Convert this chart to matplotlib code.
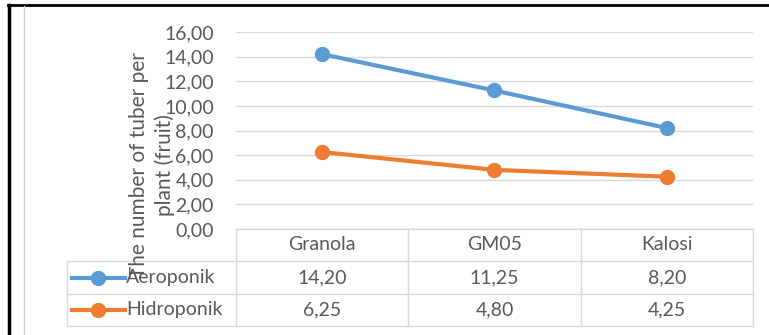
import matplotlib.pyplot as plt
from matplotlib.lines import Line2D

plt.rcParams['font.family'] = ['Lato', 'DejaVu Sans']

varieties = ["Granola", "GM05", "Kalosi"]
aeroponik = [14.20, 11.25, 8.20]
hidroponik = [6.25, 4.80, 4.25]
series_names = ["Aeroponik", "Hidroponik"]
y_ticks = [0, 2, 4, 6, 8, 10, 12, 14, 16]

W, H = 769, 335
blue = "#5B9BD5"
orange = "#ED7D31"
grid_c = "#D9D9D9"
text_c = "#595959"
fs = 14

def fmt(v):
    return f"{v:.2f}".replace(".", ",")

fig = plt.figure(figsize=(W / 100, H / 100), dpi=100)
fig.patch.set_facecolor("white")

# pixel-space layer for the frame and the data table
over = fig.add_axes([0, 0, 1, 1])
over.set_xlim(0, W)
over.set_ylim(H, 0)
over.axis("off")

# plot area in pixels
x0, x1 = 236, 753
y_top, y_bot = 32, 229
ax = fig.add_axes([x0 / W, (H - y_bot) / H, (x1 - x0) / W, (y_bot - y_top) / H])
ax.set_xlim(-0.5, len(varieties) - 0.5)
ax.set_ylim(0, 16)
ax.set_yticks(y_ticks)
ax.set_yticklabels([fmt(t) for t in y_ticks], color=text_c, fontsize=fs)
ax.set_xticks([])
ax.tick_params(axis="y", length=0, pad=16)
for s in ax.spines.values():
    s.set_visible(False)
ax.grid(axis="y", color=grid_c, linewidth=1)
ax.set_axisbelow(True)
ax.patch.set_alpha(0)

xs = range(len(varieties))
ax.plot(xs, aeroponik, color=blue, linewidth=3, marker="o", markersize=10, clip_on=False)
ax.plot(xs, hidroponik, color=orange, linewidth=3, marker="o", markersize=10, clip_on=False)

ax.set_ylabel("The number of tuber per\nplant (fruit)", fontsize=15, color=text_c,
              linespacing=1.3)
ax.yaxis.set_label_coords((175 - x0) / (x1 - x0), (y_bot - 165) / (y_bot - y_top))

# data table
col_edges = [236, 408, 581, 753]
row_edges = [229, 261, 294, 326]
tx0 = 67
lw = 1
over.plot([col_edges[0], col_edges[-1]], [row_edges[0]] * 2, color=grid_c, lw=lw)
for y in row_edges[1:]:
    over.plot([tx0, col_edges[-1]], [y, y], color=grid_c, lw=lw)
over.plot([tx0, tx0], [row_edges[1], row_edges[-1]], color=grid_c, lw=lw)
for x in col_edges:
    over.plot([x, x], [row_edges[0], row_edges[-1]], color=grid_c, lw=lw)

centers = [(col_edges[i] + col_edges[i + 1]) / 2 for i in range(len(varieties))]
for cx, name in zip(centers, varieties):
    over.text(cx, (row_edges[0] + row_edges[1]) / 2, name, ha="center", va="center",
              fontsize=fs, color=text_c)

rows = [aeroponik, hidroponik]
colors = [blue, orange]
for r, (vals, name, c) in enumerate(zip(rows, series_names, colors)):
    yc = (row_edges[r + 1] + row_edges[r + 2]) / 2
    over.add_line(Line2D([72, 125], [yc, yc], color=c, lw=3))
    over.plot([98], [yc], marker="o", markersize=10, color=c)
    over.text(126, yc, name, ha="left", va="center", fontsize=fs, color=text_c)
    for cx, v in zip(centers, vals):
        over.text(cx, yc, fmt(v), ha="center", va="center", fontsize=fs, color=text_c)

# outer frame
over.plot([8, W], [5, 5], color="black", lw=2)
over.plot([9, 9], [5, H], color="black", lw=2.5)
over.plot([24, 24], [6, H], color="#D0D0D0", lw=1)

fig.savefig("out.png", dpi=100)
